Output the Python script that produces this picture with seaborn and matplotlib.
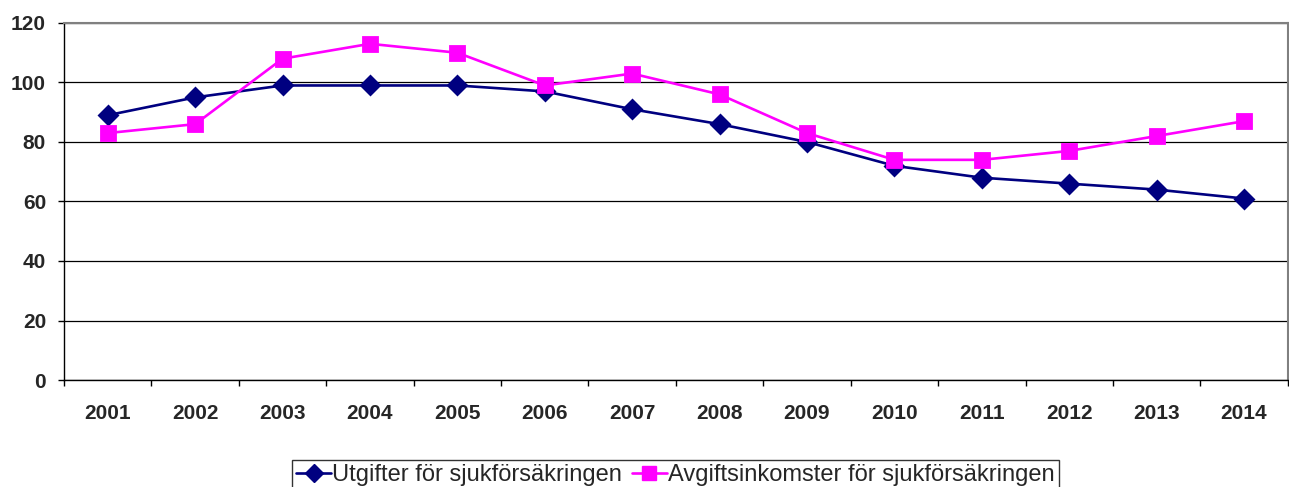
# -*- coding: utf-8 -*-

### Sjukförsäkringen - utgifter och avgiftsinkomster ###

import pandas as pd
import matplotlib.pyplot as plt
import seaborn as sns
from matplotlib.lines import Line2D

sns.set_style("white")
plt.rcParams['font.family'] = ['Liberation Sans', 'DejaVu Sans']

## Data ##
years = ['2001', '2002', '2003', '2004', '2005', '2006', '2007',
         '2008', '2009', '2010', '2011', '2012', '2013', '2014']
utgifter = [89, 95, 99, 99, 99, 97, 91, 86, 80, 72, 68, 66, 64, 61]
avgifter = [83, 86, 108, 113, 110, 99, 103, 96, 83, 74, 74, 77, 82, 87]
series_names = ['Utgifter för sjukförsäkringen', 'Avgiftsinkomster för sjukförsäkringen']

df_u = pd.DataFrame({'År': years, 'Värde': utgifter, 'Serie': series_names[0]})
df_a = pd.DataFrame({'År': years, 'Värde': avgifter, 'Serie': series_names[1]})
df_data = pd.concat([df_u, df_a], ignore_index=True)

colors = ['#000080', '#FF00FF']
font_size = 15

fig = plt.figure(figsize=(12.89, 4.87), dpi=100)
ax = fig.add_axes([0.0497, 0.2197, 0.9493, 0.7331])

p1 = sns.pointplot(data=df_data, x='År', y='Värde', hue='Serie',
                   palette=colors, markers=['D', 's'], linestyles=['-', '-'],
                   errorbar=None, ax=ax, legend=False)
# marker sizes per series
for line, ms in zip(ax.lines, [9, 10.5]):
    line.set_markersize(ms)
    line.set_linewidth(1.9)

ax.set_xlim(-0.5, len(years) - 0.5)
ax.set_ylim(0, 120)
ax.set_yticks(range(0, 121, 20))
ax.yaxis.grid(True, color='black', linewidth=0.9)
ax.set_axisbelow(True)

# Excel style: ticks between categories, labels in middle
ax.set_xticks([i - 0.5 for i in range(len(years) + 1)])
ax.set_xticklabels([])
ax.set_xticks(range(len(years)), minor=True)
ax.set_xticklabels(years, minor=True, fontsize=font_size, fontweight='bold')
ax.tick_params(axis='x', which='major', direction='out', length=4, width=1, color='black', bottom=True)
ax.tick_params(axis='x', which='minor', length=0, pad=17)
ax.tick_params(axis='y', direction='out', length=4, width=1, color='black', left=True, pad=9)
for lab in ax.get_yticklabels():
    lab.set_fontsize(font_size)
    lab.set_fontweight('bold')

ax.set_xlabel('')
ax.set_ylabel('')
for s in ['left', 'bottom']:
    ax.spines[s].set_color('black')
    ax.spines[s].set_linewidth(1)
for s in ['top', 'right']:
    ax.spines[s].set_color('#808080')
    ax.spines[s].set_linewidth(1.5)

handles = [Line2D([], [], color=colors[0], marker='D', markersize=9, linewidth=1.9),
           Line2D([], [], color=colors[1], marker='s', markersize=10.5, linewidth=1.9)]
leg = fig.legend(handles, series_names, loc='lower center', bbox_to_anchor=(0.524, -0.005),
                 ncol=2, frameon=True, fancybox=False, fontsize=17, handlelength=1.5,
                 handletextpad=0.05, columnspacing=0.4, borderpad=0.15, borderaxespad=0)
leg.get_frame().set_edgecolor('black')
leg.get_frame().set_linewidth(1)

plt.savefig('out.png', dpi=100)
